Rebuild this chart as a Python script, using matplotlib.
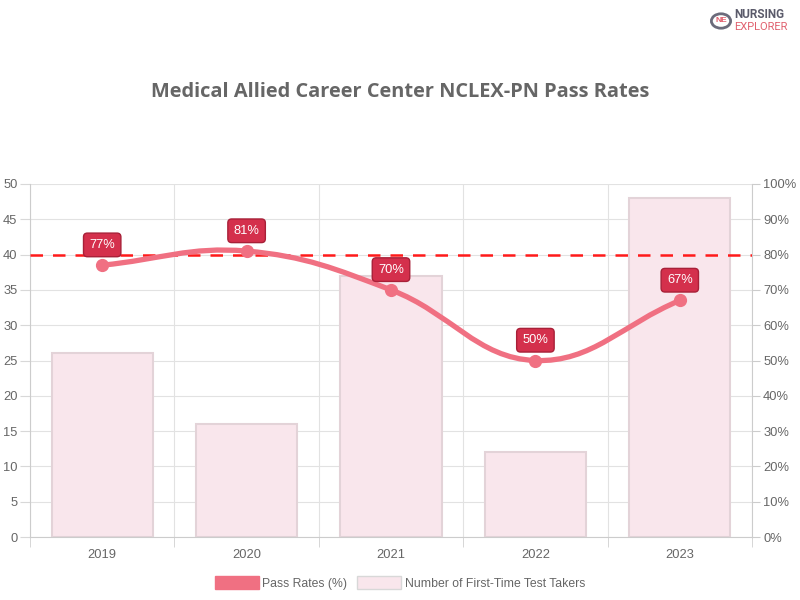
import matplotlib
matplotlib.use("Agg")
import matplotlib.pyplot as plt
from matplotlib.path import Path
from matplotlib.patches import PathPatch, Patch, Circle
import numpy as np

plt.rcParams["font.family"] = ["Liberation Sans", "DejaVu Sans"]

years = ["2019", "2020", "2021", "2022", "2023"]
test_takers = [26, 16, 37, 12, 48]
pass_rates = [77, 81, 70, 50, 67]
benchmark = 80

LINE_C = "#f07082"
BAR_FILL = "#f9e6ec"
BAR_EDGE = "#e3d3d8"
LABEL_FILL = "#d4304c"
LABEL_EDGE = "#a82038"
GRID_C = "#e2e2e2"
TXT_C = "#666666"

fig = plt.figure(figsize=(8, 6), dpi=100)
ax = fig.add_axes([30/800, 63/600, 722/800, 353/600])
ax2 = ax.twinx()
ax.set_zorder(1)
ax2.set_zorder(2)
ax.patch.set_visible(False)

x = np.arange(len(years))
ax.bar(x, test_takers, width=0.7, color=BAR_FILL, edgecolor=BAR_EDGE, linewidth=1.5, zorder=2)
ax.set_xlim(-0.5, len(years) - 0.5)
ax.set_ylim(0, 50)
ax.set_yticks(np.arange(0, 51, 5))
ax.set_xticks(x)
ax.set_xticklabels(years)
ax.set_xticks(np.arange(-0.5, len(years), 1), minor=True)
ax.grid(axis="y", color=GRID_C, linewidth=0.8, zorder=0)
ax.grid(axis="x", which="minor", color=GRID_C, linewidth=0.8, zorder=0)
ax.tick_params(axis="x", which="major", length=0, pad=9, labelsize=9.3, labelcolor=TXT_C)
ax.tick_params(axis="x", which="minor", length=7.5, color="#d0d0d0")
ax.tick_params(axis="y", length=7.5, color="#d8d8d8", pad=1.5, labelsize=9.3, labelcolor=TXT_C)
for s in ["top", "right"]:
    ax.spines[s].set_visible(False)
ax.spines["left"].set_color("#cccccc")
ax.spines["bottom"].set_color("#cccccc")

ax2.set_ylim(0, 100)
ax2.set_yticks(np.arange(0, 101, 10))
ax2.set_yticklabels([f"{v}%" for v in range(0, 101, 10)])
ax2.tick_params(axis="y", length=6, color="#cccccc", pad=2, labelsize=9.3, labelcolor=TXT_C)
for s in ["top", "left", "bottom"]:
    ax2.spines[s].set_visible(False)
ax2.spines["right"].set_color("#cccccc")

ax2.axhline(benchmark, color="#ff1a1a", linestyle=(0, (5, 4)), linewidth=1.8, zorder=3)

# Chart.js-style bezier smoothing computed in pixel space
fig.canvas.draw()
pts = ax2.transData.transform(np.column_stack([x, pass_rates]))
t = 0.4
verts = [tuple(pts[0])]
codes = [Path.MOVETO]
cps = []
n = len(pts)
for i in range(n):
    prev = pts[i - 1] if i > 0 else pts[i]
    nxt = pts[i + 1] if i < n - 1 else pts[i]
    cur = pts[i]
    d01 = np.hypot(*(cur - prev))
    d12 = np.hypot(*(nxt - cur))
    s01 = d01 / (d01 + d12) if d01 + d12 else 0
    s12 = d12 / (d01 + d12) if d01 + d12 else 0
    c1 = cur - t * s01 * (nxt - prev)
    c2 = cur + t * s12 * (nxt - prev)
    cps.append((c1, c2))
for i in range(1, n):
    verts += [tuple(cps[i - 1][1]), tuple(cps[i][0]), tuple(pts[i])]
    codes += [Path.CURVE4] * 3
inv = ax2.transData.inverted()
verts_d = inv.transform(np.array(verts))
ax2.add_patch(PathPatch(Path(verts_d, codes), fill=False, edgecolor=LINE_C, linewidth=3.8,
                        capstyle="round", zorder=4))
ax2.plot(x, pass_rates, "o", color=LINE_C, markersize=8.5, zorder=5)

for xi, v in zip(x, pass_rates):
    ax2.annotate(f"{v}%", (xi, v), xytext=(0, 14.6), textcoords="offset points",
                 ha="center", va="center", fontsize=9.3, color="white",
                 bbox=dict(boxstyle="round,pad=0.45,rounding_size=0.3", fc=LABEL_FILL, ec=LABEL_EDGE, lw=1),
                 zorder=6)

fig.text(0.5, 1 - 92/600, "Medical Allied Career Center NCLEX-PN Pass Rates", ha="center", va="center",
         fontsize=14.4, fontweight="bold", color=TXT_C, family="Open Sans")

handles = [Patch(facecolor=LINE_C, edgecolor=LINE_C),
           Patch(facecolor=BAR_FILL, edgecolor="#d8d8d8", linewidth=1)]
fig.legend(handles, ["Pass Rates (%)", "Number of First-Time Test Takers"], loc="center",
           bbox_to_anchor=(0.5, 1 - 583/600), ncol=2, frameon=False, fontsize=8.8,
           labelcolor=TXT_C, handlelength=3.6, handleheight=1.3, columnspacing=0.8, handletextpad=0.3)

# logo
fig.patches.append(Circle((721/800, 1 - 21/600), 0.012, transform=fig.transFigure, facecolor="white",
                          edgecolor="#6b6b7b", linewidth=2))
fig.text(721/800, 1 - 21/600, "NE", ha="center", va="center", fontsize=6, fontweight="bold", color="#e0606e")
fig.text(734/800, 1 - 15/600, "NURSING", ha="left", va="center", fontsize=8.5, fontweight="bold",
         color="#5a5a6a", family="Roboto")
fig.text(734/800, 1 - 27/600, "EXPLORER", ha="left", va="center", fontsize=8, color="#e0606e", family="Roboto")

fig.savefig("out.png", dpi=100, facecolor="white")
